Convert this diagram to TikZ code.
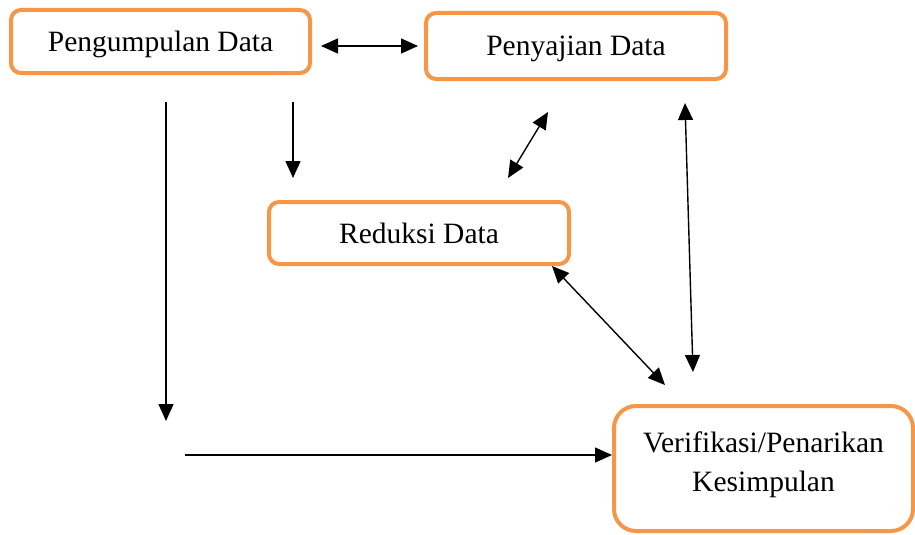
\documentclass[tikz,border=0pt]{standalone}
\usepackage{fontspec}
\setmainfont{Liberation Serif}
\usetikzlibrary{arrows.meta}
\definecolor{boxorange}{HTML}{F79646}
\begin{document}
\begin{tikzpicture}[x=1pt,y=-1pt,
  box/.style={draw=boxorange,line width=4pt,rounded corners=10pt,inner sep=0pt,
    font=\fontsize{29.5}{39}\selectfont,align=center},
  onebox/.style={box,text depth=0pt},
  tip/.tip={Triangle[length=17pt,width=15pt]},
  conn/.style={line width=1.4pt,-tip},
  dconn/.style={line width=1.4pt,tip-tip}]
\useasboundingbox (0,0) rectangle (915,535);
\node[onebox,minimum width=299pt,minimum height=63pt] (peng) at (160.5,41.5) {Pengumpulan Data};
\node[onebox,minimum width=300pt,minimum height=66pt] (peny) at (576,46) {Penyajian Data};
\node[onebox,minimum width=300pt,minimum height=62pt] (red) at (419,233) {Reduksi Data};
\node[box,rounded corners=22pt,minimum width=299pt,minimum height=125pt] (ver) at (763.5,468.5) {Verifikasi/Penarikan\\Kesimpulan\\[-25pt]};
% free ends
\coordinate (a1) at (321,46);
\coordinate (a2) at (418,46);
\coordinate (b1) at (166,102);
\coordinate (b2) at (166,421);
\coordinate (c1) at (293,102);
\coordinate (c2) at (293,178);
\coordinate (d1) at (548,112);
\coordinate (d2) at (508,178);
\coordinate (e1) at (552,266);
\coordinate (e2) at (665,385);
\coordinate (f1) at (685,103);
\coordinate (f2) at (693,372);
\coordinate (g1) at (185,455);
\coordinate (g2) at (612,455);
\draw[dconn] (a1) -- (a2);
\draw[conn] (b1) -- (b2);
\draw[conn] (c1) -- (c2);
\draw[dconn] (d1) -- (d2);
\draw[dconn] (e1) -- (e2);
\draw[dconn] (f1) -- (f2);
\draw[conn] (g1) -- (g2);
\end{tikzpicture}
\end{document}
